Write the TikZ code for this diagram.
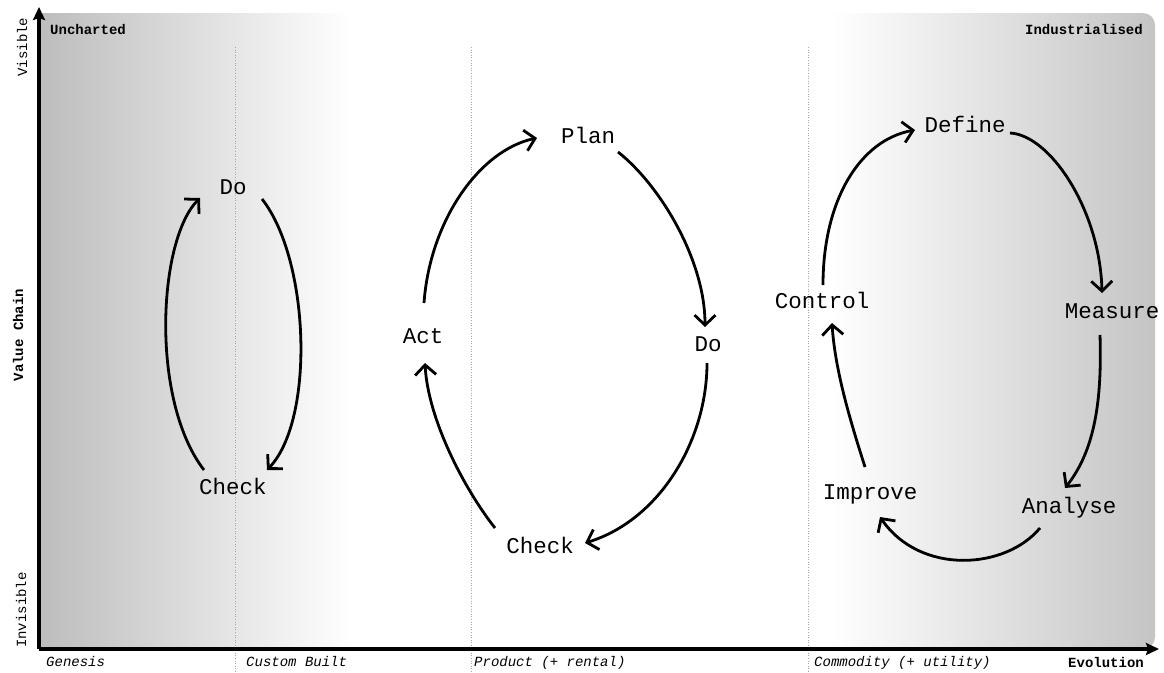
\documentclass[tikz,border=0pt]{standalone}
\usepackage{fontspec}
\setmonofont{Liberation Mono}
\usetikzlibrary{arrows.meta}
\begin{document}
\begin{tikzpicture}[x=1pt,y=-1pt,
  lbl/.style={font=\ttfamily\fontsize{22.5}{26}\selectfont, inner sep=0pt, anchor=base},
  small/.style={font=\ttfamily\fontsize{14}{16}\selectfont, inner sep=0pt},
  conn/.style={line width=2.8pt, -{Straight Barb[length=10pt,width=21pt,line width=2.8pt]}},
  axis/.style={line width=3.4pt, -{Stealth[length=13pt,width=12pt,inset=2pt]}},
  stage/.style={gray!70, line width=0.6pt, dotted}]
\useasboundingbox (0,0) rectangle (1164,672);
% background gradients
\shade[left color=black!26, right color=white] (40,13) rectangle (352,649);
\begin{scope}
  \clip[rounded corners=12pt] (700,13) rectangle (1155,649);
  \shade[left color=white, right color=black!23] (830,13) rectangle (1155,649);
\end{scope}
% stage dividers
\draw[stage] (235,47) -- (235,672);
\draw[stage] (471,47) -- (471,672);
\draw[stage] (808,47) -- (808,672);
% axes
\coordinate (O) at (39,649);
\coordinate (ytop) at (39,7);
\coordinate (xend) at (1159,649);
\draw[axis] (O) -- (ytop);
\draw[axis] (O) -- (xend);
% axis labels
\node[small, font=\ttfamily\bfseries\fontsize{14}{16}\selectfont, anchor=base west] (unch) at (50,34) {Uncharted};
\node[small, font=\ttfamily\bfseries\fontsize{14}{16}\selectfont, anchor=base east] (ind) at (1143,34) {Industrialised};
\node[small, rotate=90] (vis) at (22,47) {Visible};
\node[small, rotate=90, font=\ttfamily\bfseries\fontsize{14}{16}\selectfont] (vc) at (18,335) {Value Chain};
\node[small, rotate=90] (invis) at (21,610) {Invisible};
\node[small, font=\ttfamily\itshape\fontsize{14}{16}\selectfont, anchor=base west] (gen) at (46,666) {Genesis};
\node[small, font=\ttfamily\itshape\fontsize{14}{16}\selectfont, anchor=base west] (cb) at (246,666) {Custom Built};
\node[small, font=\ttfamily\itshape\fontsize{14}{16}\selectfont, anchor=base west] (prod) at (474,666) {Product (+ rental)};
\node[small, font=\ttfamily\itshape\fontsize{14}{16}\selectfont, anchor=base west] (comm) at (814,666) {Commodity (+ utility)};
\node[small, font=\ttfamily\bfseries\fontsize{14}{16}\selectfont, anchor=base east] (evo) at (1144,667) {Evolution};
% left cycle
\node[lbl] (do1) at (233,194) {Do};
\node[lbl] (chk1) at (233,494) {Check};
\draw[conn] ([shift={(-29,-24)}]chk1.base) .. controls +(-54,-70) and +(-42,42) .. ([shift={(-33,4)}]do1.base);
\draw[conn] ([shift={(29,5)}]do1.base) .. controls +(48,61) and +(48,-50) .. ([shift={(34,-24)}]chk1.base);
% middle cycle
\node[lbl] (plan) at (588,143) {Plan};
\node[lbl] (do2) at (708,351) {Do};
\node[lbl] (chk2) at (540,553) {Check};
\node[lbl] (act) at (423,343) {Act};
\draw[conn] ([shift={(1,-40)}]act.base) .. controls +(6,-83) and +(-57,12) .. ([shift={(-51,-5)}]plan.base);
\draw[conn] ([shift={(30,9)}]plan.base) .. controls +(42,33) and +(0,-67) .. ([shift={(-3,-24)}]do2.base);
\draw[conn] ([shift={(-1,12)}]do2.base) .. controls +(0,77) and +(75,-23) .. ([shift={(45,-10)}]chk2.base);
\draw[conn] ([shift={(-45,-25)}]chk2.base) .. controls +(-30,-38) and +(3,57) .. ([shift={(2,20)}]act.base);
% right cycle
\node[lbl] (def) at (965,132) {Define};
\node[lbl] (meas) at (1112,318) {Measure};
\node[lbl] (ana) at (1069,513) {Analyse};
\node[lbl] (imp) at (870,499) {Improve};
\node[lbl] (ctrl) at (822,308) {Control};
\draw[conn] ([shift={(1,-23)}]ctrl.base) .. controls +(0,-85) and +(-55,10) .. ([shift={(-50,-2)}]def.base);
\draw[conn] ([shift={(45,1)}]def.base) .. controls +(40,2) and +(-2,-83) .. ([shift={(-10,-25)}]meas.base);
\draw[conn] ([shift={(-12,17)}]meas.base) .. controls +(2,65) and +(30,-38) .. ([shift={(-4,-25)}]ana.base);
\draw[conn] ([shift={(-29,15)}]ana.base) .. controls +(-35,42) and +(40,58) .. ([shift={(10,18)}]imp.base);
\draw[conn] ([shift={(-5,-32)}]imp.base) .. controls +(-15,-47) and +(3,47) .. ([shift={(10,15)}]ctrl.base);
\end{tikzpicture}
\end{document}
